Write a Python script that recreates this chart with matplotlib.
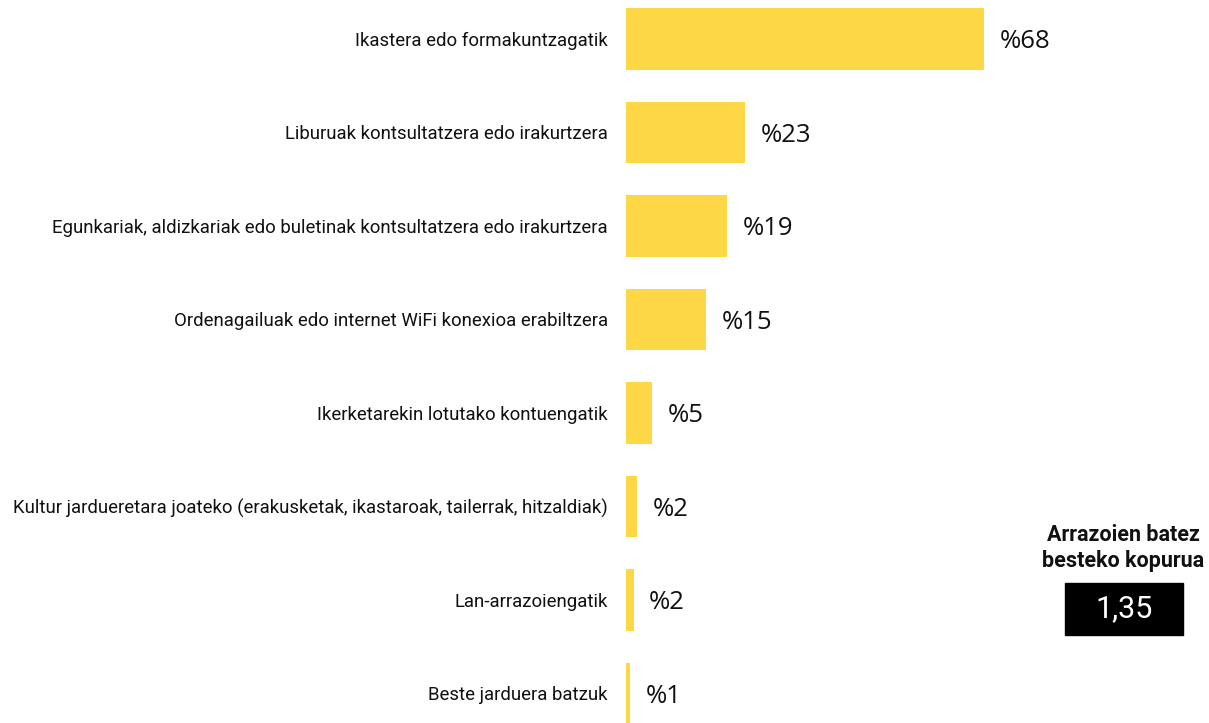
import matplotlib.pyplot as plt
from matplotlib.patches import Rectangle
from matplotlib.transforms import offset_copy

categories = [
    "Ikastera edo formakuntzagatik",
    "Liburuak kontsultatzera edo irakurtzera",
    "Egunkariak, aldizkariak edo buletinak kontsultatzera edo irakurtzera",
    "Ordenagailuak edo internet WiFi konexioa erabiltzera",
    "Ikerketarekin lotutako kontuengatik",
    "Kultur jardueretara joateko (erakusketak, ikastaroak, tailerrak, hitzaldiak)",
    "Lan-arrazoiengatik",
    "Beste jarduera batzuk",
]
values = [68, 22.6, 19.2, 15.2, 5.0, 2.1, 1.5, 0.8]
average_title = "Arrazoien batez\nbesteko kopurua"
average_value = "1,35"

bar_color = "#FDD745"

fig = plt.figure(figsize=(12.09, 7.23), dpi=100)
ax = fig.add_axes([626 / 1209, 0, 526.5 / 1209, 1])

y = list(range(len(categories)))
ax.barh(y, values, height=0.66, color=bar_color)
ax.set_xlim(0, 100)
ax.set_ylim(-0.417 + 723 / 93.5, -0.417)

ax.set_yticks(y)
ax.set_yticklabels(categories, family="Roboto", fontsize=13.4, color="#111111")
ax.tick_params(axis="y", length=0, pad=13)
ax.set_xticks([])
for s in ax.spines.values():
    s.set_visible(False)

shifted = offset_copy(ax.transData, fig=fig, x=0, y=-3, units="dots")
for yi, v in zip(y, values):
    ax.text(v + 2.9, yi, f"%{round(v)}", va="center", ha="left",
            family="Open Sans", fontsize=18.5, color="#111111",
            transform=shifted)

fig.text(1123 / 1209, 1 - 548 / 723, average_title, ha="center", va="center",
         family="Roboto", fontweight="bold", fontsize=15.5, linespacing=1.2,
         color="#111111")
fig.patches.append(Rectangle((1065 / 1209, 1 - 635 / 723), 118 / 1209, 52 / 723,
                             transform=fig.transFigure, color="black"))
fig.text(1124 / 1209, 1 - 609 / 723, average_value, ha="center", va="center",
         family="Roboto", fontsize=22, color="white")

fig.savefig("out.png", dpi=100)
